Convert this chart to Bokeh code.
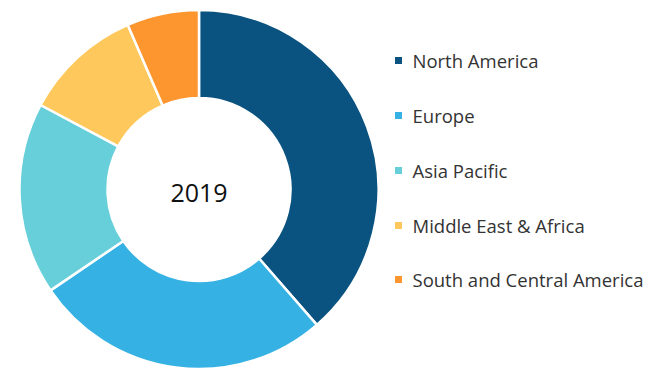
import math
from bokeh.plotting import figure
from bokeh.models import ColumnDataSource, Range1d
from bokeh.core.properties import value
from bokeh.embed import file_html
from bokeh.resources import INLINE

categories = ["North America", "Europe", "Asia Pacific", "Middle East & Africa", "South and Central America"]
shares = [38.6, 26.9, 17.3, 10.7, 6.5]
colors = ["#0A5380", "#36B1E4", "#66CFD9", "#FFC85C", "#FD962F"]
center_label = "2019"

W, H = 660, 372
p = figure(width=W, height=H, output_backend="svg", toolbar_location=None,
           x_range=Range1d(0, W), y_range=Range1d(0, H), min_border=0)
p.axis.visible = False
p.grid.visible = False
p.outline_line_color = None

cx, cy = 198.5, H - 189
total = sum(shares)
starts, ends = [], []
acc = 0.0
for s in shares:
    starts.append(math.pi / 2 - acc / total * 2 * math.pi)
    acc += s
    ends.append(math.pi / 2 - acc / total * 2 * math.pi)

src = ColumnDataSource(dict(start=starts, end=ends, color=colors, cat=categories))
p.annular_wedge(x=cx, y=cy, inner_radius=91.5, outer_radius=179.5,
                inner_radius_units="screen", outer_radius_units="screen",
                start_angle="start", end_angle="end", direction="clock",
                fill_color="color", line_color="white", line_width=2.5, source=src)

p.text(x=[cx], y=[cy - 3], text=[center_label], text_align="center", text_baseline="middle",
       text_font=value("Open Sans"), text_font_size="25px", text_color="#111111")

leg_y = [H - 60, H - 115, H - 170, H - 225, H - 279]
lsrc = ColumnDataSource(dict(x=[398] * 5, tx=[412] * 5, y=leg_y, color=colors, cat=categories))
p.scatter(x="x", y="y", marker="square", size=7, fill_color="color", line_color=None, source=lsrc)
p.text(x="tx", y="y", text="cat", text_baseline="middle", text_align="left",
       text_font=value("Open Sans"), text_font_size="18.5px", text_color="#333333", source=lsrc)

open("out.html", "w").write(file_html(p, INLINE))
